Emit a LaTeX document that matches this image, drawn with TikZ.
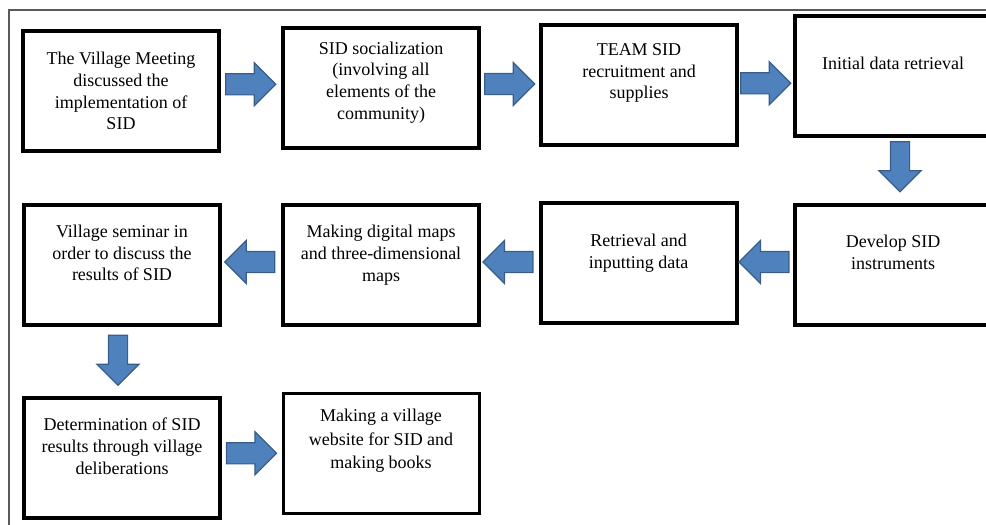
\documentclass[tikz,border=0pt]{standalone}
\usepackage{fontspec}
\setmainfont{Liberation Serif}
\usepackage{xcolor}
\usetikzlibrary{shapes.arrows}

\definecolor{arrowblue}{HTML}{4F81BD}
\definecolor{arrowedge}{HTML}{385D8A}
\definecolor{framegray}{HTML}{595959}

\tikzset{
	stepbox/.style={draw, line width=4pt, minimum width=196pt, minimum height=120pt, inner sep=0pt},
	steptext/.style={align=center, font=\fontsize{18}{21.8}\selectfont, inner sep=0pt},
	blockarrow/.style={single arrow, draw=arrowedge, fill=arrowblue, line width=1.2pt, inner sep=0pt,
		minimum height=50pt, text height=10pt, text depth=10pt, single arrow head extend=11pt, xshift=-5.5pt},
	rightarrow/.style={rotate=0, blockarrow},
	leftarrow/.style={rotate=180, blockarrow, xshift=2pt},
	downarrow/.style={rotate=-90, blockarrow, text height=9pt, text depth=9pt, single arrow head extend=11.5pt}
}

\begin{document}
\begin{tikzpicture}[x=1pt,y=-1pt]
			\useasboundingbox (0,0) rectangle (986,525);
			\clip (0,0) rectangle (986,525);
			% Khung
			\draw[framegray, line width=1.3pt] (986,10) -- (9,10) -- (9,525);
			% Cac buoc
			\node[stepbox] (b1) at (121,90.5) {};
			\node[stepbox] (b2) at (381,88) {};
			\node[stepbox] (b3) at (639,85) {};
			\node[stepbox] (b4) at (893,75.5) {};
			\node[stepbox] (b5) at (893,264.5) {};
			\node[stepbox] (b6) at (638.5,262.5) {};
			\node[stepbox] (b7) at (381,264.5) {};
			\node[stepbox] (b8) at (122,264.5) {};
			\node[stepbox] (b9) at (122,457.5) {};
			\node[stepbox, line width=3pt] (b10) at (381,453) {};
			% Chu trong khung
			\node[steptext] (t1) at ([yshift=-0.5pt]b1.center) {The Village Meeting\\discussed the\\implementation of\\SID};
			\node[steptext] (t2) at ([yshift=5.5pt]b2.center) {SID socialization\\(involving all\\elements of the\\community)};
			\node[steptext] (t3) at ([yshift=12pt]b3.center) {TEAM SID\\recruitment and\\supplies};
			\node[steptext] (t4) at ([yshift=12.5pt]b4.center) {Initial data retrieval};
			\node[steptext] (t5) at ([yshift=12.5pt]b5.center) {Develop SID\\instruments};
			\node[steptext] (t6) at ([yshift=9.5pt]b6.center) {Retrieval and\\inputting data};
			\node[steptext] (t7) at ([yshift=9.5pt]b7.center) {Making digital maps\\and three-dimensional\\maps};
			\node[steptext] (t8) at ([yshift=11.5pt]b8.center) {Village seminar in\\order to discuss the\\results of SID};
			\node[steptext] (t9) at ([yshift=11.5pt]b9.center) {Determination of SID\\results through village\\deliberations};
			\node[steptext, font=\fontsize{18}{23.5}\selectfont] (t10) at ([yshift=12pt]b10.center) {Making a village\\website for SID and\\making books};
			% Mui ten
			\path ([yshift=5pt]b1.east) -- ([yshift=5pt]b2.west) node[midway, rightarrow] (a12) {};
			\path ([yshift=2.5pt]b2.east) -- ([yshift=2.5pt]b3.west) node[midway, rightarrow] (a23) {};
			\path ([yshift=-3pt]b3.east) -- ([yshift=-3pt]b4.west) node[midway, rightarrow] (a34) {};
			\path ([shift={(7pt,2.5pt)}]b4.south) -- ([shift={(7pt,2.5pt)}]b5.north) node[midway, downarrow] (a45) {};
			\path ([yshift=1.5pt]b5.west) -- ([yshift=1.5pt]b6.east) node[midway, leftarrow] (a56) {};
			\path ([yshift=1.5pt]b6.west) -- ([yshift=1.5pt]b7.east) node[midway, leftarrow] (a67) {};
			\path ([yshift=2.5pt]b7.west) -- ([yshift=2.5pt]b8.east) node[midway, leftarrow] (a78) {};
			\path ([xshift=-4pt]b8.south) -- ([xshift=-4pt]b9.north) node[midway, downarrow] (a89) {};
			\path ([yshift=2pt]b9.east) -- ([yshift=2pt]b10.west) node[midway, rightarrow] (a910) {};
		\end{tikzpicture}
\end{document}
